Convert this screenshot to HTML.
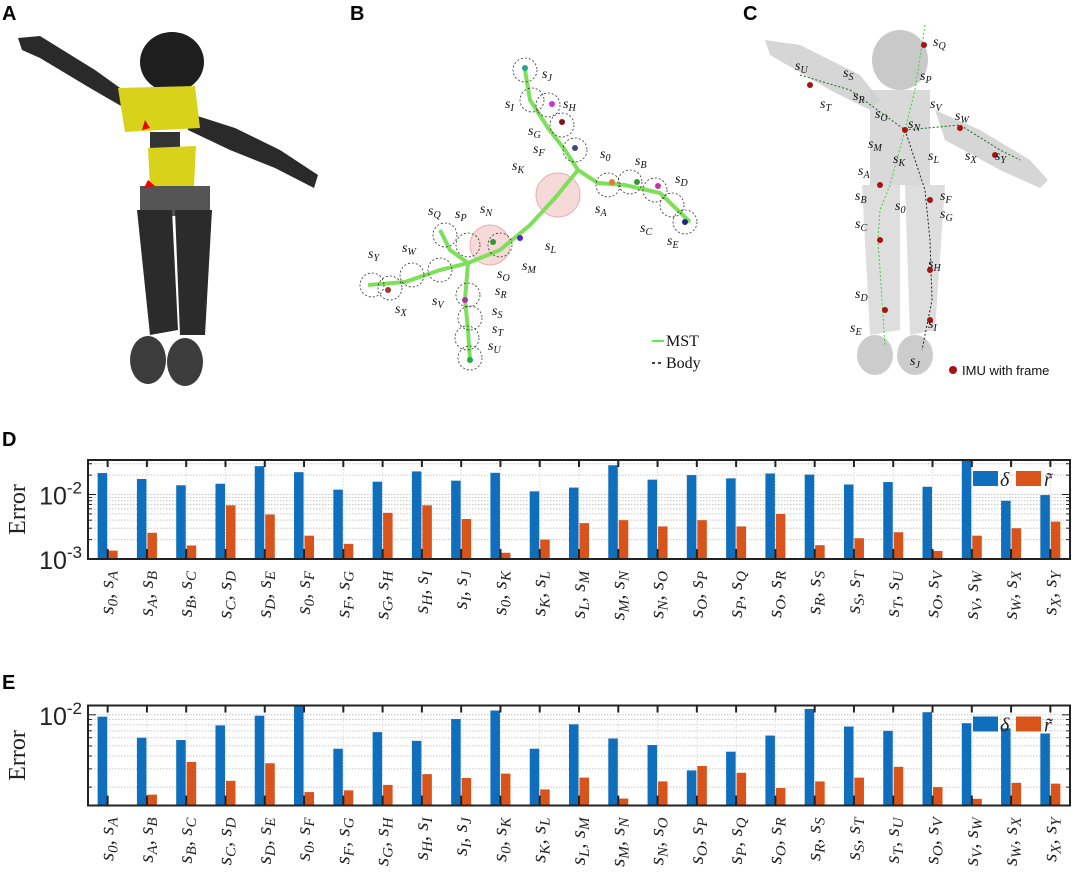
<!DOCTYPE html>
<html><head><meta charset="utf-8">
<style>
html,body{margin:0;padding:0;background:#fff;}
svg{display:block;}
.pl{font-family:"Liberation Sans",sans-serif;font-weight:bold;font-size:20px;}
.ml{font-family:"Liberation Serif",serif;font-style:italic;font-size:15px;}
.tk{font-family:"Liberation Sans",sans-serif;font-size:25px;}
.yl{font-family:"Liberation Serif",serif;font-size:24px;}
</style></head><body>
<svg id="fig" width="1080" height="878" viewBox="0 0 1080 878" xmlns="http://www.w3.org/2000/svg">
<text class="pl" x="2" y="20">A</text>
<text class="pl" x="350" y="20">B</text>
<text class="pl" x="743" y="20">C</text>
<text class="pl" x="2" y="446">D</text>
<text class="pl" x="2" y="689">E</text>

<g>
  <path d="M18,38 L40,36 L95,70 L130,95 L128,110 L90,88 L40,58 L22,50 Z" fill="#2a2a2a"/>
  <path d="M185,112 L235,128 L280,150 L318,175 L314,188 L275,168 L230,150 L188,130 Z" fill="#2a2a2a"/>
  <ellipse cx="172" cy="62" rx="32" ry="30" fill="#1e1e1e"/>
  <path d="M118,88 L195,86 L200,128 L125,132 Z" fill="#d8d21a"/>
  <rect x="150" y="132" width="30" height="18" fill="#333"/>
  <path d="M148,148 L196,146 L194,186 L150,188 Z" fill="#d8d21a"/>
  <rect x="140" y="186" width="70" height="30" fill="#555"/>
  <path d="M137,210 L172,210 L178,330 L150,335 Z" fill="#2b2b2b"/>
  <path d="M175,210 L212,210 L205,335 L180,335 Z" fill="#2b2b2b"/>
  <ellipse cx="148" cy="360" rx="18" ry="24" fill="#3c3c3c"/>
  <ellipse cx="185" cy="362" rx="18" ry="24" fill="#3c3c3c"/>
  <path d="M145,120 L150,128 L142,130 Z M148,180 L155,186 L144,188 Z" fill="#e00"/>
</g>

<g fill="none">
  <circle cx="558" cy="195" r="22" fill="#f6d9d9" stroke="#e8b0b0"/>
  <circle cx="490" cy="245" r="20" fill="#f6d9d9" stroke="#e8b0b0"/>
  <polyline points="525,70 530,100 548,128 565,150 578,170 598,183 625,185 660,193 690,222" stroke="#7ee05a" stroke-width="4"/>
  <polyline points="578,170 555,198 530,225 500,250 468,263 440,270 405,282 368,285" stroke="#7ee05a" stroke-width="4"/>
  <polyline points="468,263 465,300 468,330 470,360" stroke="#7ee05a" stroke-width="4"/>
  <polyline points="440,230 450,250 468,263" stroke="#7ee05a" stroke-width="4"/>
  <g stroke="#333" stroke-dasharray="2,2" stroke-width="0.8">
    <circle cx="525" cy="70" r="12"/><circle cx="532" cy="100" r="12"/><circle cx="548" cy="105" r="12"/><circle cx="562" cy="125" r="12"/><circle cx="575" cy="150" r="12"/>
    <circle cx="608" cy="185" r="12"/><circle cx="630" cy="182" r="12"/><circle cx="655" cy="190" r="12"/><circle cx="672" cy="205" r="12"/><circle cx="685" cy="222" r="12"/>
    <circle cx="445" cy="235" r="12"/><circle cx="468" cy="245" r="12"/><circle cx="500" cy="245" r="12"/>
    <circle cx="372" cy="285" r="12"/><circle cx="390" cy="288" r="12"/><circle cx="412" cy="275" r="12"/><circle cx="440" cy="270" r="12"/>
    <circle cx="468" cy="295" r="12"/><circle cx="470" cy="318" r="12"/><circle cx="467" cy="338" r="12"/><circle cx="470" cy="358" r="12"/>
  </g>
  <g stroke="none">
    <circle cx="525" cy="68" r="3" fill="#2a8"/><circle cx="552" cy="104" r="3" fill="#c3c"/><circle cx="562" cy="122" r="3" fill="#811"/><circle cx="575" cy="148" r="3" fill="#448"/>
    <circle cx="612" cy="182" r="3" fill="#e73"/><circle cx="637" cy="182" r="3" fill="#393"/><circle cx="658" cy="186" r="3" fill="#c39"/><circle cx="685" cy="222" r="3" fill="#228"/>
    <circle cx="388" cy="290" r="3" fill="#a33"/><circle cx="493" cy="242" r="3" fill="#393"/><circle cx="520" cy="238" r="3" fill="#52c"/><circle cx="470" cy="360" r="3" fill="#2a4"/><circle cx="465" cy="300" r="3" fill="#a3a"/>
  </g>
  <g class="ml" fill="#111" stroke="none" style="font-size:14px">
    <text x="542" y="78">s<tspan font-size="10" dy="3">J</tspan></text>
    <text x="505" y="108">s<tspan font-size="10" dy="3">I</tspan></text>
    <text x="563" y="108">s<tspan font-size="10" dy="3">H</tspan></text>
    <text x="528" y="135">s<tspan font-size="10" dy="3">G</tspan></text>
    <text x="533" y="153">s<tspan font-size="10" dy="3">F</tspan></text>
    <text x="600" y="158">s<tspan font-size="10" dy="3">0</tspan></text>
    <text x="635" y="165">s<tspan font-size="10" dy="3">B</tspan></text>
    <text x="512" y="170">s<tspan font-size="10" dy="3">K</tspan></text>
    <text x="595" y="213">s<tspan font-size="10" dy="3">A</tspan></text>
    <text x="675" y="183">s<tspan font-size="10" dy="3">D</tspan></text>
    <text x="640" y="232">s<tspan font-size="10" dy="3">C</tspan></text>
    <text x="667" y="245">s<tspan font-size="10" dy="3">E</tspan></text>
    <text x="545" y="250">s<tspan font-size="10" dy="3">L</tspan></text>
    <text x="522" y="270">s<tspan font-size="10" dy="3">M</tspan></text>
    <text x="428" y="215">s<tspan font-size="10" dy="3">Q</tspan></text>
    <text x="455" y="218">s<tspan font-size="10" dy="3">P</tspan></text>
    <text x="480" y="213">s<tspan font-size="10" dy="3">N</tspan></text>
    <text x="497" y="278">s<tspan font-size="10" dy="3">O</tspan></text>
    <text x="368" y="258">s<tspan font-size="10" dy="3">Y</tspan></text>
    <text x="402" y="252">s<tspan font-size="10" dy="3">W</tspan></text>
    <text x="432" y="305">s<tspan font-size="10" dy="3">V</tspan></text>
    <text x="395" y="313">s<tspan font-size="10" dy="3">X</tspan></text>
    <text x="495" y="295">s<tspan font-size="10" dy="3">R</tspan></text>
    <text x="492" y="315">s<tspan font-size="10" dy="3">S</tspan></text>
    <text x="492" y="333">s<tspan font-size="10" dy="3">T</tspan></text>
    <text x="488" y="350">s<tspan font-size="10" dy="3">U</tspan></text>
  </g>
  <g>
    <line x1="652" y1="341" x2="664" y2="341" stroke="#5e5" stroke-width="2"/>
    <text x="666" y="346" fill="#111" stroke="none" style="font-family:'Liberation Serif',serif;font-size:16px">MST</text>
    <line x1="652" y1="363" x2="664" y2="363" stroke="#000" stroke-dasharray="3,3" stroke-width="1.5"/>
    <text x="666" y="368" fill="#111" stroke="none" style="font-family:'Liberation Serif',serif;font-size:16px">Body</text>
  </g>
</g>

<g>
  <path d="M765,40 L800,45 L860,75 L880,100 L870,110 L830,90 L770,55 Z" fill="#ccc" opacity="0.8"/>
  <path d="M935,110 L980,130 L1030,160 L1048,180 L1040,188 L1000,170 L945,140 Z" fill="#ccc" opacity="0.8"/>
  <ellipse cx="900" cy="60" rx="28" ry="30" fill="#bbb" opacity="0.8"/>
  <rect x="870" y="90" width="60" height="95" fill="#d0d0d0" opacity="0.8"/>
  <path d="M862,185 L900,185 L900,330 L870,335 Z" fill="#d6d6d6" opacity="0.8"/>
  <path d="M905,185 L945,185 L935,330 L910,335 Z" fill="#d6d6d6" opacity="0.8"/>
  <ellipse cx="875" cy="355" rx="18" ry="20" fill="#ccc"/>
  <ellipse cx="915" cy="355" rx="18" ry="20" fill="#ccc"/>
  <polyline points="925,25 915,90 905,130 890,185 880,210 878,240 882,300 885,345" stroke="#4c4" fill="none" stroke-dasharray="2,2"/>
  <polyline points="905,130 925,190 930,240 932,300 922,350" stroke="#222" fill="none" stroke-dasharray="2,2"/>
  <polyline points="800,75 850,90 905,130 960,125 1000,150 1020,160" stroke="#262" fill="none" stroke-dasharray="2,2"/>
  <g fill="#a11"><circle cx="924" cy="45" r="3"/><circle cx="905" cy="130" r="3"/><circle cx="880" cy="185" r="3"/><circle cx="930" cy="200" r="3"/><circle cx="880" cy="240" r="3"/><circle cx="930" cy="270" r="3"/><circle cx="885" cy="310" r="3"/><circle cx="930" cy="320" r="3"/><circle cx="810" cy="85" r="3"/><circle cx="960" cy="128" r="3"/><circle cx="995" cy="155" r="3"/></g>
  <g class="ml" fill="#111" style="font-size:14px">
    <text x="933" y="46">s<tspan font-size="10" dy="3">Q</tspan></text>
    <text x="795" y="70">s<tspan font-size="10" dy="3">U</tspan></text>
    <text x="843" y="77">s<tspan font-size="10" dy="3">S</tspan></text>
    <text x="920" y="80">s<tspan font-size="10" dy="3">P</tspan></text>
    <text x="820" y="108">s<tspan font-size="10" dy="3">T</tspan></text>
    <text x="853" y="100">s<tspan font-size="10" dy="3">R</tspan></text>
    <text x="930" y="108">s<tspan font-size="10" dy="3">V</tspan></text>
    <text x="875" y="118">s<tspan font-size="10" dy="3">O</tspan></text>
    <text x="955" y="120">s<tspan font-size="10" dy="3">W</tspan></text>
    <text x="908" y="128">s<tspan font-size="10" dy="3">N</tspan></text>
    <text x="868" y="148">s<tspan font-size="10" dy="3">M</tspan></text>
    <text x="928" y="160">s<tspan font-size="10" dy="3">L</tspan></text>
    <text x="965" y="160">s<tspan font-size="10" dy="3">X</tspan></text>
    <text x="995" y="160">s<tspan font-size="10" dy="3">Y</tspan></text>
    <text x="893" y="163">s<tspan font-size="10" dy="3">K</tspan></text>
    <text x="858" y="175">s<tspan font-size="10" dy="3">A</tspan></text>
    <text x="855" y="200">s<tspan font-size="10" dy="3">B</tspan></text>
    <text x="940" y="200">s<tspan font-size="10" dy="3">F</tspan></text>
    <text x="895" y="210">s<tspan font-size="10" dy="3">0</tspan></text>
    <text x="940" y="218">s<tspan font-size="10" dy="3">G</tspan></text>
    <text x="855" y="228">s<tspan font-size="10" dy="3">C</tspan></text>
    <text x="928" y="268">s<tspan font-size="10" dy="3">H</tspan></text>
    <text x="855" y="298">s<tspan font-size="10" dy="3">D</tspan></text>
    <text x="928" y="328">s<tspan font-size="10" dy="3">I</tspan></text>
    <text x="850" y="332">s<tspan font-size="10" dy="3">E</tspan></text>
    <text x="910" y="365">s<tspan font-size="10" dy="3">J</tspan></text>
  </g>
  <circle cx="953" cy="370" r="4" fill="#a11"/>
  <text x="962" y="375" style="font-family:'Liberation Sans',sans-serif;font-size:13px" fill="#111">IMU with frame</text>
</g>

<g id="chartD"></g>
<g id="chartE"></g>
</svg>
<script>
const NS = "http://www.w3.org/2000/svg";
const subA = ["0","A","B","C","D","0","F","G","H","I","0","K","L","M","N","O","P","O","R","S","T","O","V","W","X"];
const subB = ["A","B","C","D","E","F","G","H","I","J","K","L","M","N","O","P","Q","R","S","T","U","V","W","X","Y"];
const deltaD = [0.0215,0.0174,0.0139,0.0147,0.0275,0.0222,0.0119,0.0158,0.0228,0.0164,0.0217,0.0112,0.0128,0.0284,0.017,0.020,0.0178,0.0212,0.0204,0.0143,0.0156,0.0132,0.034,0.008,0.0098];
const rD = [0.00135,0.00255,0.00162,0.0068,0.0049,0.0023,0.00172,0.0052,0.0068,0.00417,0.00125,0.002,0.0036,0.004,0.0032,0.004,0.0032,0.005,0.00164,0.0021,0.0026,0.00133,0.0023,0.003,0.0038];
const deltaE = [0.0096,0.006,0.0057,0.0079,0.0098,0.0125,0.0047,0.0068,0.0056,0.0091,0.011,0.0047,0.0081,0.0059,0.0051,0.0029,0.0044,0.0063,0.0114,0.0077,0.007,0.0106,0.0083,0.0074,0.0066];
const rE = [0.0012,0.00169,0.0035,0.0023,0.0034,0.00179,0.00186,0.0021,0.00267,0.00245,0.0027,0.0019,0.00247,0.00155,0.00227,0.0032,0.00275,0.00196,0.00227,0.00247,0.00314,0.002,0.00154,0.0022,0.00216];
const yTicksD = [0.001,0.01];
const yTicksE = [0.01];

function mk(parent, tag, attrs){const e=document.createElementNS(NS,tag);for(const k in attrs)e.setAttribute(k,attrs[k]);parent.appendChild(e);return e;}

function drawChart(g, cfg, dVals, rVals, yTicks, prefix){
  const {x0,x1,yTop,yBot,logTop,logBot} = cfg;
  const n = subA.length, step=(x1-x0)/n;
  const xs = i => x0 + step*(i+0.5);
  const ys = v => yBot - (Math.log10(v)-logBot)/(logTop-logBot)*(yBot-yTop);
  for(let d=Math.floor(logBot); d<=Math.ceil(logTop); d++){
    for(let m=1;m<10;m++){
      const v=m*Math.pow(10,d), lv=Math.log10(v);
      if(lv<=logBot||lv>=logTop) continue;
      const y=ys(v);
      mk(g,"line",{x1:x0,x2:x1,y1:y,y2:y,stroke:"#c8c8c8","stroke-dasharray":"1.5,1.5","stroke-width":1});
      mk(g,"line",{x1:x1-(m===1?8:4),x2:x1,y1:y,y2:y,stroke:"#222","stroke-width":1});
      mk(g,"line",{x1:x0,x2:x0+(m===1?8:4),y1:y,y2:y,stroke:"#222","stroke-width":1});
    }
  }
  for(let i=0;i<n;i++){
    const x=xs(i);
    mk(g,"line",{x1:x,x2:x,y1:yTop,y2:yBot,stroke:"#dcdcdc","stroke-dasharray":"1.5,1.5"});
  }
  for(let i=0;i<n;i++){
    const x=xs(i);
    const yb=Math.max(ys(dVals[i]),yTop);
    const b=mk(g,"rect",{x:x-10,y:yb,width:9.5,height:yBot-yb,fill:"#0f6fbd"});
    
    
    const yr=Math.max(ys(rVals[i]),yTop);
    const r=mk(g,"rect",{x:x+0.5,y:yr,width:9.5,height:yBot-yr,fill:"#d9541a"});
    
    
    mk(g,"line",{x1:x,x2:x,y1:yTop,y2:yTop+7,stroke:"#222","stroke-width":2});
    mk(g,"line",{x1:x,x2:x,y1:yBot,y2:yBot-10,stroke:"#222","stroke-width":2});
    const t=mk(g,"text",{class:"ml",transform:`translate(${x+6},${yBot+12}) rotate(-90)`,"text-anchor":"end",fill:"#222",style:"font-size:21px"});
    
    
    const s1=document.createElementNS(NS,"tspan");s1.textContent="s";t.appendChild(s1);
    const s2=document.createElementNS(NS,"tspan");s2.setAttribute("font-size","15");s2.setAttribute("dy","4");s2.textContent=subA[i];t.appendChild(s2);
    const s3=document.createElementNS(NS,"tspan");s3.setAttribute("dy","-4");s3.textContent=", s";t.appendChild(s3);
    const s4=document.createElementNS(NS,"tspan");s4.setAttribute("font-size","15");s4.setAttribute("dy","4");s4.textContent=subB[i];t.appendChild(s4);
  }
  mk(g,"rect",{x:x0,y:yTop,width:x1-x0,height:yBot-yTop,fill:"none",stroke:"#222","stroke-width":2});
  yTicks.forEach(v=>{
    const y=ys(v);
    const t=mk(g,"text",{class:"tk",x:x0-6,y:y+10,"text-anchor":"end",fill:"#222"});
    
    
    t.appendChild(document.createTextNode("10"));
    const sp=document.createElementNS(NS,"tspan");sp.setAttribute("dy","-11");sp.setAttribute("font-size","17");sp.textContent=String(Math.round(Math.log10(v)));t.appendChild(sp);
  });
  const yl=mk(g,"text",{class:"yl",transform:`translate(25,${(yTop+yBot)/2}) rotate(-90)`,"text-anchor":"middle",fill:"#222"});
  
  
  yl.textContent="Error";
  const ly=yTop+11;
  const lg=mk(g,"g",{});
  
  
  mk(lg,"rect",{x:x1-97,y:ly,width:25,height:15,fill:"#0f6fbd"});
  const t1=mk(lg,"text",{class:"ml",x:x1-70,y:ly+15,fill:"#222",style:"font-size:20px"});t1.textContent="δ";
  mk(lg,"rect",{x:x1-54,y:ly,width:25,height:15,fill:"#d9541a"});
  const t2=mk(lg,"text",{class:"ml",x:x1-26,y:ly+15,fill:"#222",style:"font-size:20px"});t2.textContent="r̃";
}
drawChart(document.getElementById("chartD"),{x0:88,x1:1070,yTop:460,yBot:559,logTop:-1.465,logBot:-3},deltaD,rD,yTicksD,"chart-d");
drawChart(document.getElementById("chartE"),{x0:88,x1:1070,yTop:705.5,yBot:805.5,logTop:-1.91,logBot:-2.877},deltaE,rE,yTicksE,"chart-e");
</script>
</body></html>
